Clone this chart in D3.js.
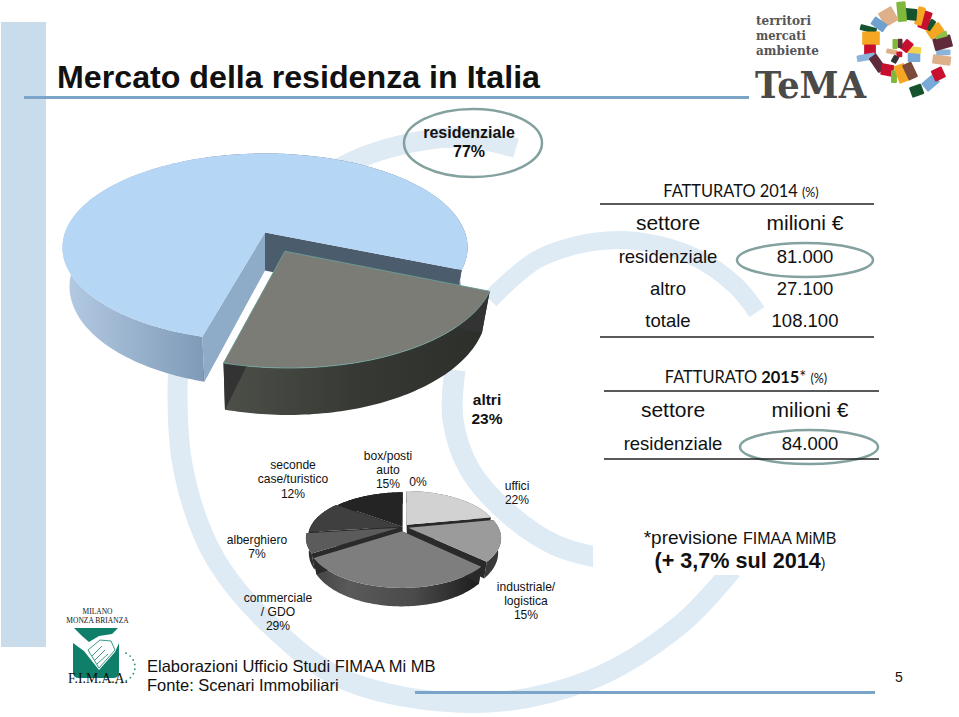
<!DOCTYPE html>
<html>
<head>
<meta charset="utf-8">
<script src="https://cdn.jsdelivr.net/npm/d3@7"></script>
<style>
  body { margin: 0; background: #fff; }
  text { font-family: "Liberation Sans", Arial, sans-serif; fill: #111; }
  .cal { font-family: Lato, sans-serif; }
  .serif { font-family: "Liberation Serif", serif; }
</style>
</head>
<body>
<svg id="chart"></svg>
<script>
// chart values
var bigLabels = ["altri", "residenziale"];
var bigValues = [23, 77];

var smallLabels = ["uffici", "industriale/logistica", "commerciale/GDO", "alberghiero", "seconde case/turistico", "box/posti auto", "altro"];
var smallValues = [22, 15, 29, 7, 12, 15, 0];

var table2014 = [["residenziale", "81.000"], ["altro", "27.100"], ["totale", "108.100"]];
var table2015 = [["residenziale", "84.000"]];

var smallColors = ["#d2d2d2", "#9b9b9b", "#7e7e7e", "#5b5b5b", "#3f3f3f", "#242424", "#000"];
var smallWalls = ["#555", "#3a3a3a", "url(#wallSmall)", "#2e2e2e", "#1c1c1c", "#111", "#000"];

var w = 959;
var h = 717;

var svg = d3.select("#chart")
  .attr("width", w)
  .attr("height", h)
  .style("display", "block");

var defs = svg.append("defs");

function gradient(id, x1, x2, stops) {
  var g = defs.append("linearGradient")
    .attr("id", id)
    .attr("gradientUnits", "userSpaceOnUse")
    .attr("x1", x1).attr("x2", x2)
    .attr("y1", 0).attr("y2", 0);
  stops.forEach(function(s){
    g.append("stop").attr("offset", s[0]).attr("stop-color", s[1]);
  });
}
gradient("wallBlue", 60, 467, [[0, "#b6cce5"], [0.35, "#7f9bb7"], [0.36, "#5c6c7e"], [1, "#5c6c7e"]]);
gradient("wallDark", 222, 490, [[0, "#4d4f49"], [0.5, "#373934"], [1, "#2c2e29"]]);
gradient("wallSmall", 316, 480, [[0, "#444"], [0.2, "#5a5a5a"], [0.6, "#4a4a4a"], [0.95, "#222"]]);

// background
svg.append("rect")
  .attr("x", 1).attr("y", 22)
  .attr("width", 45).attr("height", 625)
  .attr("fill", "#c8dcec");

var ringLine = d3.line().curve(d3.curveCatmullRom.alpha(0.5));
var rings = [
  {w: 20, pts: [[516,148],[470,138],[420,141],[345,165],[250,240],[185,340],[178,420],[188,490],[216,560],[270,625],[345,680],[476,703],[590,680],[680,625],[732,570]]},
  {w: 21, pts: [[455,370],[453,420],[470,470],[510,515],[555,545],[600,558]]},
  {w: 18, pts: [[490,300],[540,258],[617,240],[690,255],[735,285],[757,312]]}
];
svg.selectAll(".ring")
  .data(rings)
  .enter().append("path")
  .attr("class", "ring")
  .attr("d", function(d){ return ringLine(d.pts); })
  .attr("fill", "none")
  .attr("stroke", "#deeaf4")
  .attr("stroke-width", function(d){ return d.w; });

// white box behind the note
svg.append("rect")
  .attr("x", 593).attr("y", 500)
  .attr("width", 366).attr("height", 75)
  .attr("fill", "#fff");

// title
svg.append("text")
  .attr("x", 57).attr("y", 88)
  .attr("font-size", 32.2)
  .attr("font-weight", "bold")
  .text("Mercato della residenza in Italia");

svg.append("line")
  .attr("x1", 24).attr("x2", 749)
  .attr("y1", 97.5).attr("y2", 97.5)
  .attr("stroke", "#7aa5c9").attr("stroke-width", 3);
svg.append("line")
  .attr("x1", 415).attr("x2", 875)
  .attr("y1", 692.5).attr("y2", 692.5)
  .attr("stroke", "#7aa5c9").attr("stroke-width", 3);

// 3D pie: unit circle pushed through a small perspective
function projector(o) {
  return function(x, y, low) {
    var s = 1 / (1 - o.k * y);
    var f = low ? o.shrink : 1;
    return [
      o.cx + o.R * x * s * f,
      o.cy + o.A * y * s + (low ? o.depth * s : 0)
    ];
  };
}

function drawPie(o, labels, values, startDeg, explode, tops, walls, faces, edge) {
  var pie = d3.pie().sort(null)
    .startAngle(startDeg * Math.PI / 180)
    .endAngle((startDeg + 360) * Math.PI / 180);
  var slices = pie(values).map(function(d, i){
    d.i = i;
    d.mid = (d.startAngle + d.endAngle) / 2;
    return d;
  }).filter(function(d){ return d.value > 0; });

  slices.sort(function(a, b){ return -Math.cos(a.mid) + Math.cos(b.mid); });

  var p = projector(o);
  var path = d3.line();

  var g = svg.append("g").selectAll("g")
    .data(slices)
    .enter().append("g")
    .attr("class", function(d){ return "slice " + labels[d.i]; });

  g.each(function(d){
    var e = explode[d.i];
    var ox = e * Math.sin(d.mid);
    var oy = -e * Math.cos(d.mid);
    var n = Math.ceil((d.endAngle - d.startAngle) / 0.02);
    var angles = d3.range(n + 1).map(function(j){
      return d.startAngle + (d.endAngle - d.startAngle) * j / n;
    });
    function at(a, low) {
      return p(ox + Math.sin(a), oy - Math.cos(a), low);
    }
    var top = angles.map(function(a){ return at(a, false); });
    var bot = angles.map(function(a){ return at(a, true); }).reverse();
    var apex = p(ox, oy, false);
    var apexLow = p(ox, oy, true);
    var sel = d3.select(this);

    sel.append("path")
      .attr("d", path(top.concat(bot)) + "Z")
      .attr("fill", walls[d.i]);
    // cut faces, end one first so the nearer one sits on top
    [[d.endAngle, faces[d.i][1]], [d.startAngle, faces[d.i][0]]].forEach(function(f){
      sel.append("path")
        .attr("d", path([apex, at(f[0], false), at(f[0], true), apexLow]) + "Z")
        .attr("fill", f[1]);
    });
    sel.append("path")
      .attr("d", path([apex].concat(top)) + "Z")
      .attr("fill", tops[d.i])
      .attr("stroke", edge ? edge[d.i] : "none")
      .attr("stroke-width", 0.8);
  });
}

drawPie(
  {cx: 265, cy: 232.5, R: 200, A: 91.6, k: 0.159, depth: 38, shrink: 0.965},
  bigLabels, bigValues, 112.6,
  [0.22, 0],
  ["#7b7c75", "#b6d6f6"],
  ["url(#wallDark)", "url(#wallBlue)"],
  [["#333", "#333"], ["#8eabc8", "#4b5c6c"]],
  ["#6fa9a3", "none"]
);

drawPie(
  {cx: 403, cy: 527, R: 90, A: 42, k: 0.22, depth: 14, shrink: 0.97},
  smallLabels, smallValues, 0,
  [0.07, 0.06, 0.1, 0.05, 0.03, 0.01, 0],
  smallColors,
  smallWalls,
  smallColors.map(function(c, i){ return ["#2a2a2a", "#2a2a2a"]; })
);

// pie labels
var labelData = [
  {x: 293, y: 469, t: "seconde"}, {x: 293, y: 483, t: "case/turistico"}, {x: 293, y: 498, t: "12%"},
  {x: 388, y: 460, t: "box/posti"}, {x: 388, y: 474, t: "auto"}, {x: 388, y: 488, t: "15%"},
  {x: 418, y: 486, t: "0%"},
  {x: 517, y: 490, t: "uffici"}, {x: 517, y: 504, t: "22%"},
  {x: 526, y: 591, t: "industriale/"}, {x: 526, y: 605, t: "logistica"}, {x: 526, y: 619, t: "15%"},
  {x: 257, y: 544, t: "alberghiero"}, {x: 257, y: 558, t: "7%"},
  {x: 278, y: 602, t: "commerciale"}, {x: 278, y: 616, t: "/ GDO"}, {x: 278, y: 630, t: "29%"}
];
svg.selectAll(".lab")
  .data(labelData)
  .enter().append("text")
  .attr("class", "lab")
  .attr("x", function(d){ return d.x; })
  .attr("y", function(d){ return d.y; })
  .attr("text-anchor", "middle")
  .attr("font-size", 12.1)
  .text(function(d){ return d.t; });

svg.append("text").attr("x", 487).attr("y", 405).attr("text-anchor", "middle")
  .attr("font-size", 15.5).attr("font-weight", "bold").text("altri");
svg.append("text").attr("x", 487).attr("y", 424).attr("text-anchor", "middle")
  .attr("font-size", 15.5).attr("font-weight", "bold").text("23%");

svg.append("text").attr("x", 469).attr("y", 138).attr("text-anchor", "middle")
  .attr("font-size", 16).attr("font-weight", "bold").text("residenziale");
svg.append("text").attr("x", 469).attr("y", 157).attr("text-anchor", "middle")
  .attr("font-size", 16).attr("font-weight", "bold").text("77%");

// ovals
[[473, 143, 69, 34], [805, 260, 68, 17], [809, 447, 69, 17]].forEach(function(e){
  svg.append("ellipse")
    .attr("cx", e[0]).attr("cy", e[1])
    .attr("rx", e[2]).attr("ry", e[3])
    .attr("fill", "none")
    .attr("stroke", "#83a19f")
    .attr("stroke-width", 2.5);
});

// tables
function heading(x, y, parts) {
  var t = svg.append("text")
    .attr("class", "cal")
    .attr("x", x).attr("y", y)
    .attr("text-anchor", "middle");
  parts.forEach(function(p){
    t.append("tspan")
      .attr("class", "cal")
      .attr("font-size", p[1])
      .attr("font-weight", p[2] || "normal")
      .text(p[0]);
  });
}
function rule(x1, x2, y) {
  svg.append("line")
    .attr("x1", x1).attr("x2", x2)
    .attr("y1", y + 0.5).attr("y2", y + 0.5)
    .attr("stroke", "#222").attr("stroke-width", 1.6);
}
function cell(x, y, size, txt) {
  svg.append("text")
    .attr("x", x).attr("y", y)
    .attr("text-anchor", "middle")
    .attr("font-size", size)
    .text(txt);
}

heading(741, 197, [["FATTURATO 2014 ", 16.4], ["(%)", 12.5]]);
rule(600, 874, 203.5);
cell(668, 230, 21, "settore");
cell(805, 230, 21, "milioni €");
var rowY = [263, 295, 327];
table2014.forEach(function(r, i){
  cell(668, rowY[i], 18.5, r[0]);
  cell(805, rowY[i], 18.5, r[1]);
});
rule(600, 874, 336.5);

heading(746, 383, [["FATTURATO ", 16.4], ["2015", 16.4, "bold"], ["* ", 16.4], ["(%)", 12.5]]);
rule(604, 879, 390.5);
cell(673, 417, 21, "settore");
cell(810, 417, 21, "milioni €");
table2015.forEach(function(r){
  cell(673, 450, 18.5, r[0]);
  cell(810, 450, 18.5, r[1]);
});
rule(604, 879, 458.5);

// note
var note = svg.append("text")
  .attr("x", 740).attr("y", 544)
  .attr("text-anchor", "middle");
note.append("tspan").attr("font-size", 19).text("*previsione ");
note.append("tspan").attr("font-size", 16).text("FIMAA MiMB");
var note2 = svg.append("text")
  .attr("x", 740).attr("y", 568)
  .attr("text-anchor", "middle");
note2.append("tspan").attr("font-size", 21.6).attr("font-weight", "bold").text("(+ 3,7% sul 2014");
note2.append("tspan").attr("font-size", 14).text(")");

// footer
svg.append("text").attr("x", 147).attr("y", 672).attr("font-size", 16.5).text("Elaborazioni  Ufficio Studi FIMAA Mi MB");
svg.append("text").attr("x", 147).attr("y", 691).attr("font-size", 16.5).text("Fonte: Scenari Immobiliari");
svg.append("text").attr("x", 895).attr("y", 682).attr("font-size", 14).text("5");

// FIMAA logo
var green = "#0f7f69";
var fimaa = svg.append("g");
fimaa.append("text").attr("class", "serif").attr("x", 97.5).attr("y", 613.5)
  .attr("text-anchor", "middle").attr("font-size", 7.5).text("MILANO");
fimaa.append("text").attr("class", "serif").attr("x", 97.5).attr("y", 622.5)
  .attr("text-anchor", "middle").attr("font-size", 7.5).text("MONZA BRIANZA");
fimaa.append("path").attr("d", "M74 628 H118 L112 634 L99 636 L89 642 L82 636 Z").attr("fill", green);
fimaa.append("path").attr("d", "M73 643 V672 Q73 678 79 678 H113 Q119 678 119 672 V643 L115 652 L99 670 L84 651 Z").attr("fill", green);
["M88 650 L100 640 L111 641", "M88 650 L99 668", "M111 641 L115 650 L99 668",
 "M92 656 L102 646", "M95 660 L105 650", "M97 664 L108 654"].forEach(function(s){
  fimaa.append("path").attr("d", s).attr("fill", "none")
    .attr("stroke", green).attr("stroke-width", 0.8);
});
var dotAngles = d3.range(-60, 130, 17);
fimaa.selectAll("circle")
  .data(dotAngles)
  .enter().append("circle")
  .attr("cx", function(d){ return 117 + 18 * Math.cos(d * Math.PI / 180); })
  .attr("cy", function(d){ return 667 + 16 * Math.sin(d * Math.PI / 180); })
  .attr("r", 0.9)
  .attr("fill", "#2b8f7c");
fimaa.append("text").attr("class", "serif").attr("x", 68).attr("y", 683)
  .attr("font-size", 15)
  .attr("textLength", 60)
  .attr("lengthAdjust", "spacingAndGlyphs")
  .text("F.I.M.A.A.");

// TeMA logo
var tema = svg.append("g");
["territori", "mercati", "ambiente"].forEach(function(t, i){
  tema.append("text")
    .attr("x", 756).attr("y", 25 + i * 15)
    .attr("font-size", 13.5)
    .attr("font-weight", "bold")
    .style("font-family", "'DejaVu Serif', serif")
    .style("fill", "#555")
    .attr("textLength", [55, 50, 63][i])
    .attr("lengthAdjust", "spacingAndGlyphs")
    .text(t);
});
tema.append("text")
  .attr("x", 755).attr("y", 98)
  .attr("font-size", 38)
  .attr("font-weight", "bold")
  .style("font-family", "'DejaVu Serif', serif")
  .style("fill", "#4a4a4a")
  .attr("textLength", 111)
  .attr("lengthAdjust", "spacingAndGlyphs")
  .text("TeMA");

var blocks = [
  [470,272,30,26,"#14532d",-20],[512,248,38,26,"#78a9d8",-40],[535,222,28,28,"#c8102e",-25],
  [545,180,44,22,"#deb08a",8],[550,157,34,14,"#8ab4dc",0],[548,128,44,30,"#5f2a3a",-15],
  [543,105,30,14,"#8cc04a",-15],[525,92,38,26,"#f5a623",-35],[512,75,14,28,"#14532d",35],
  [495,60,24,44,"#c8102e",20],[480,48,18,44,"#f5a623",15],[452,43,30,28,"#14532d",5],
  [425,35,22,48,"#7fb83d",-5],[385,50,36,38,"#deb08a",-30],[357,73,36,22,"#6fa0d0",35],
  [325,87,40,14,"#14532d",15],[333,115,42,32,"#f5a623",0],[330,150,28,26,"#c8102e",0],
  [318,172,44,16,"#8ab4dc",-10],[352,190,22,42,"#5f2a3a",-35],[382,210,30,28,"#c8102e",10],
  [402,230,14,30,"#7fb83d",0],[425,220,26,44,"#f5a623",-20],[450,213,24,40,"#7a4a3a",-25],
  [462,172,30,22,"#78a9d8",0],[462,150,34,16,"#f2d24e",5],[440,138,22,28,"#c8102e",40],
  [420,130,12,22,"#5f2a3a",0],[405,132,12,24,"#7fb83d",0],[395,155,26,12,"#deb08a",10],
  [418,163,14,14,"#c8102e",0],[405,178,14,18,"#333",30]
];
tema.selectAll("rect")
  .data(blocks)
  .enter().append("rect")
  .attr("x", function(d){ return -d[2] * 0.21; })
  .attr("y", function(d){ return -d[3] * 0.21; })
  .attr("width", function(d){ return d[2] * 0.42; })
  .attr("height", function(d){ return d[3] * 0.42; })
  .attr("rx", 1)
  .attr("fill", function(d){ return d[4]; })
  .attr("transform", function(d){
    return "translate(" + (760 + d[0] / 3) + "," + (d[1] / 3) + ") rotate(" + d[5] + ")";
  });
</script>
</body>
</html>
